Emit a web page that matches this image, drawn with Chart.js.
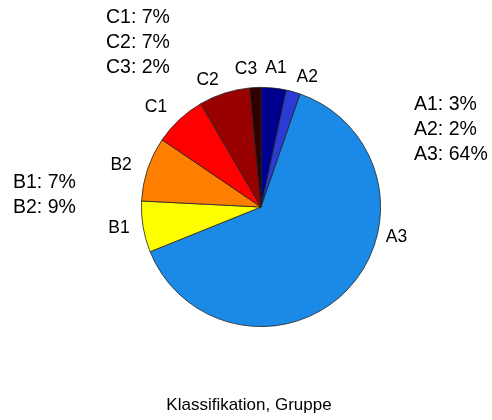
<!DOCTYPE html>
<html>
<head>
<meta charset="utf-8">
<script src="https://cdn.jsdelivr.net/npm/chart.js@4"></script>
<style>
  html, body { margin: 0; padding: 0; background: #fff; }
</style>
</head>
<body>
<canvas id="myChart" width="492" height="420"></canvas>
<script>
// data (percent, clockwise from 12 o'clock)
const categories = ['A1', 'A2', 'A3', 'B1', 'B2', 'C1', 'C2', 'C3'];
const shares = [3.4, 1.9, 63.6, 6.9, 8.7, 7.1, 6.9, 1.5];
const noteC = ['C1: 7%', 'C2: 7%', 'C3: 2%'];
const noteA = ['A1: 3%', 'A2: 2%', 'A3: 64%'];
const noteB = ['B1: 7%', 'B2: 9%'];
const xTitle = 'Klassifikation, Gruppe';

const colors = ['#00008f', '#2b3bd6', '#1a8ae6', '#ffff00', '#ff8000', '#ff0000', '#990000', '#300000'];
const FAMILY = '"Liberation Sans", Arial, sans-serif';

// labels in the original are pushed apart a bit: [turn in degrees, radius factor]
const labelAdjust = {
    A2: [4, 1.15],
    A3: [-31, 1.16],
    B1: [1, 1.2],
    B2: [-2, 1.22],
    C1: [-3.5, 1.21],
    C2: [-5, 1.15],
    C3: [-3.5, 1.16]
};

const textPlugin = {
    id: 'pieText',
    afterDraw(chart) {
        const ctx = chart.ctx;
        ctx.save();
        ctx.fillStyle = '#000';
        ctx.textBaseline = 'middle';

        // slice labels, centred just outside the slice middle
        ctx.font = '17.5px ' + FAMILY;
        ctx.textAlign = 'center';
        const meta = chart.getDatasetMeta(0);
        meta.data.forEach(function (arc, i) {
            const p = arc.getProps(['x', 'y', 'startAngle', 'endAngle', 'outerRadius'], true);
            const adj = labelAdjust[categories[i]] || [0, 1.17];
            const mid = (p.startAngle + p.endAngle) / 2 + adj[0] * Math.PI / 180;
            const r = p.outerRadius * adj[1];
            ctx.fillText(categories[i], p.x + Math.cos(mid) * r, p.y + Math.sin(mid) * r);
        });

        // text boxes
        ctx.font = '19.5px ' + FAMILY;
        ctx.textAlign = 'left';
        function block(lines, x, y) {
            lines.forEach(function (s, k) { ctx.fillText(s, x, y + k * 25); });
        }
        block(noteC, 106, 18);
        block(noteA, 414, 105);
        block(noteB, 13, 183);

        ctx.font = '17px ' + FAMILY;
        ctx.textAlign = 'center';
        ctx.fillText(xTitle, 249, 405);
        ctx.restore();
    }
};

const ctx = document.getElementById('myChart').getContext('2d');
const myChart = new Chart(ctx, {
    type: 'pie',
    data: {
        labels: categories,
        datasets: [{
            data: shares,
            backgroundColor: colors,
            borderColor: '#222',
            borderWidth: 0.8
        }]
    },
    options: {
        responsive: false,
        animation: false,
        layout: { padding: { top: 87, bottom: 93, left: 141, right: 111 } },
        plugins: {
            legend: { display: false },
            tooltip: { enabled: false }
        }
    },
    plugins: [textPlugin]
});
</script>
</body>
</html>
